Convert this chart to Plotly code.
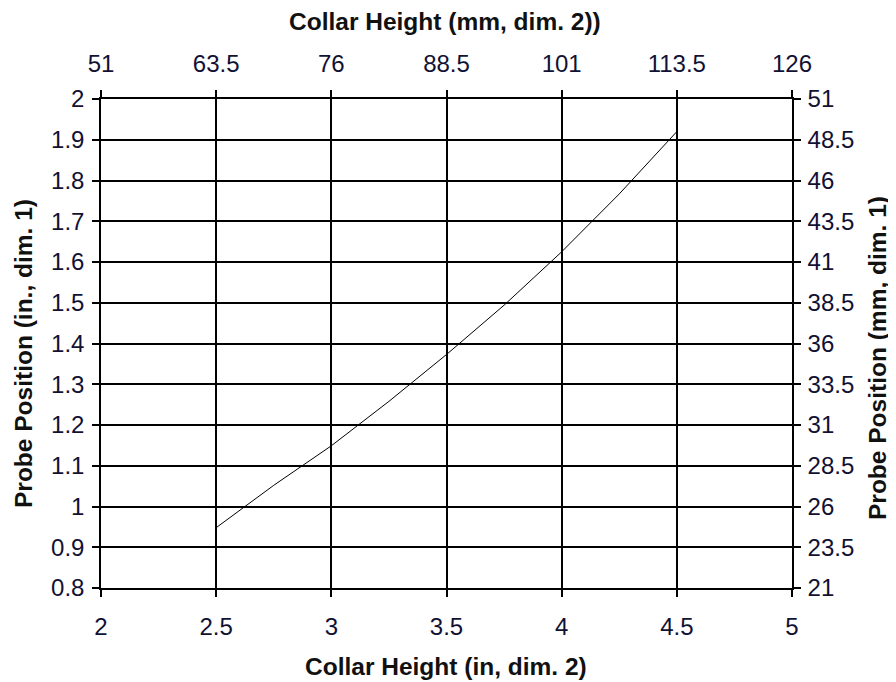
import plotly.graph_objects as go

# Data
collar_in = [2.5, 2.75, 3.0, 3.25, 3.5, 3.75, 4.0, 4.25, 4.5]
probe_in = [0.948, 1.052, 1.149, 1.258, 1.373, 1.494, 1.625, 1.767, 1.92]

x_ticks_in = [2, 2.5, 3, 3.5, 4, 4.5, 5]
x_ticks_mm = [51, 63.5, 76, 88.5, 101, 113.5, 126]
y_ticks_in = [0.8, 0.9, 1, 1.1, 1.2, 1.3, 1.4, 1.5, 1.6, 1.7, 1.8, 1.9, 2]
y_ticks_mm = [21, 23.5, 26, 28.5, 31, 33.5, 36, 38.5, 41, 43.5, 46, 48.5, 51]

title_bottom = "Collar Height (in, dim. 2)"
title_top = "Collar Height (mm, dim. 2))"
title_left = "Probe Position (in., dim. 1)"
title_right = "Probe Position (mm, dim. 1)"

FONT = "Liberation Sans, Arial, sans-serif"
tick_font = dict(family=FONT, size=24, color="#111133")
title_font = dict(family=FONT, size=24.5, color="#111111")

# The page body has an 8px default margin, so the figure is sized to the visible part.
OFF = 8
W, H = 896 - OFF, 682 - OFF
L, T = 101 - OFF, 99 - OFF
R, B = 896 - 792, 682 - 588
pw, ph = W - L - R, H - T - B

def px_x(x):
    return (x - OFF - L) / pw

def px_y(y):
    return (H - B - (y - OFF)) / ph

fig = go.Figure()
fig.add_trace(go.Scatter(x=collar_in, y=probe_in, mode="lines",
                         line=dict(color="black", width=1), showlegend=False,
                         xaxis="x", yaxis="y"))
# invisible trace to anchor secondary axes
fig.add_trace(go.Scatter(x=[x_ticks_mm[0], x_ticks_mm[-1]], y=[y_ticks_mm[0], y_ticks_mm[-1]],
                         mode="markers", marker=dict(opacity=0), showlegend=False,
                         hoverinfo="skip", xaxis="x2", yaxis="y2"))

axis_common = dict(showline=True, linecolor="black", linewidth=1.5, mirror=False,
                   ticks="outside", ticklen=7, tickwidth=1.5, tickcolor="black",
                   tickfont=tick_font, zeroline=False, automargin=False)

fig.update_layout(
    width=W, height=H,
    margin=dict(l=L, r=R, t=T, b=B),
    paper_bgcolor="white", plot_bgcolor="white",
    xaxis=dict(range=[2, 5], tickvals=x_ticks_in, ticktext=[str(v) for v in x_ticks_in],
               showgrid=True, gridcolor="black", gridwidth=1.5, side="bottom",
               ticklabelstandoff=9, **axis_common),
    xaxis2=dict(range=[51, 126], tickvals=x_ticks_mm, ticktext=[str(v) for v in x_ticks_mm],
                overlaying="x", side="top", anchor="y", showgrid=False,
                ticklabelstandoff=9, **axis_common),
    yaxis=dict(range=[0.8, 2], tickvals=y_ticks_in, ticktext=[str(v) for v in y_ticks_in],
               showgrid=True, gridcolor="black", gridwidth=1.5,
               ticklabelstandoff=3, **axis_common),
    yaxis2=dict(range=[21, 51], tickvals=y_ticks_mm, ticktext=[str(v) for v in y_ticks_mm],
                overlaying="y", side="right", anchor="x", showgrid=False,
                ticklabelstandoff=2, **axis_common),
)

ann = dict(xref="paper", yref="paper", showarrow=False, font=title_font,
           xanchor="center", yanchor="middle")
fig.add_annotation(text="<b>%s</b>" % title_bottom, x=px_x(446), y=px_y(666), **ann)
fig.add_annotation(text="<b>%s</b>" % title_top, x=px_x(445), y=px_y(21), **ann)
fig.add_annotation(text="<b>%s</b>" % title_left, x=px_x(23), y=px_y(354), textangle=-90, **ann)
fig.add_annotation(text="<b>%s</b>" % title_right, x=px_x(877), y=px_y(358), textangle=-90, **ann)

fig.write_html("out.html")
